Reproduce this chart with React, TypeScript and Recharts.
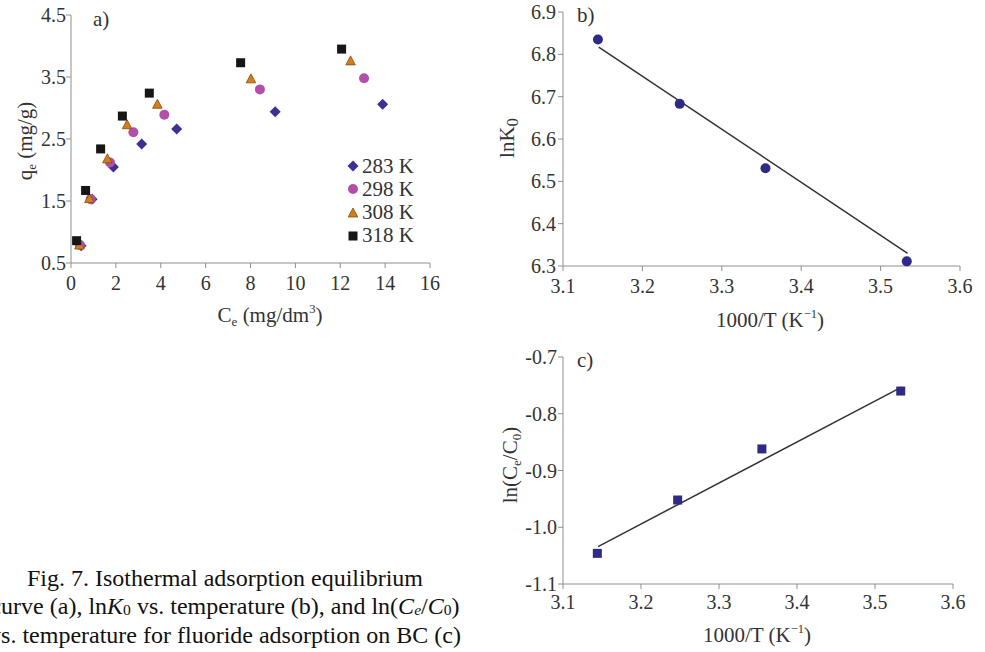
import { ScatterChart, Scatter, XAxis, YAxis } from "recharts";

// panel a: isotherms (Ce in mg/dm3, qe in mg/g)
const ceTicks = [0, 2, 4, 6, 8, 10, 12, 14, 16];
const qeTicks = [0.5, 1.5, 2.5, 3.5, 4.5];

const ce283 = [0.45, 0.94, 1.89, 3.15, 4.71, 9.1, 13.89];
const qe283 = [0.78, 1.53, 2.05, 2.42, 2.66, 2.94, 3.06];
const ce298 = [0.4, 0.88, 1.74, 2.78, 4.16, 8.42, 13.06];
const qe298 = [0.79, 1.53, 2.12, 2.61, 2.89, 3.3, 3.48];
const ce308 = [0.38, 0.82, 1.62, 2.5, 3.85, 8.02, 12.46];
const qe308 = [0.79, 1.54, 2.18, 2.73, 3.06, 3.47, 3.76];
const ce318 = [0.25, 0.65, 1.32, 2.29, 3.49, 7.56, 12.06];
const qe318 = [0.86, 1.67, 2.34, 2.87, 3.24, 3.73, 3.95];

// panels b and c: 1000/T
const invTTicks = [3.1, 3.2, 3.3, 3.4, 3.5, 3.6];
const invT = [3.144, 3.247, 3.355, 3.533];
const lnK0 = [6.835, 6.683, 6.531, 6.311];
const lnCeC0 = [-1.046, -0.952, -0.862, -0.76];
const lnK0Ticks = [6.3, 6.4, 6.5, 6.6, 6.7, 6.8, 6.9];
const lnCeTicks = [-1.1, -1.0, -0.9, -0.8, -0.7];

// fitted lines (end points)
const fitInvT = [3.145, 3.534];
const fitLnK0 = [6.817, 6.33];
const fitLnCeC0 = [-1.034, -0.753];

const toPts = (xs: number[], ys: number[]) => xs.map((x, i) => ({ x, y: ys[i] }));

const FONT = "Liberation Serif, Tinos, Times New Roman, DejaVu Serif, serif";
const AXIS = "#8f8f8f";
const TXT = "#333";

const BLUE = "#3a3192";
const MAGENTA = "#b24fa8";
const ORANGE = "#cf7f1c";
const BLACK = "#161616";
const NAVY = "#2e2a85";

const Diamond = (p: any) => (
  <polygon
    points={`${p.cx},${p.cy - 5.5} ${p.cx + 5.5},${p.cy} ${p.cx},${p.cy + 5.5} ${p.cx - 5.5},${p.cy}`}
    fill={BLUE}
  />
);
const Circle = (p: any) => <circle cx={p.cx} cy={p.cy} r={5} fill={MAGENTA} />;
const Triangle = (p: any) => (
  <polygon
    points={`${p.cx},${p.cy - 5} ${p.cx + 4.8},${p.cy + 4} ${p.cx - 4.8},${p.cy + 4}`}
    fill={ORANGE}
    stroke="#8c4a10"
    strokeWidth={0.8}
  />
);
const Square = (p: any) => (
  <rect x={p.cx - 4.5} y={p.cy - 4.5} width={9} height={9} fill={p.fill || BLACK} />
);
const Dot = (p: any) => <circle cx={p.cx} cy={p.cy} r={5} fill={NAVY} />;
const NavySquare = (p: any) => <Square {...p} fill={NAVY} />;
const NoMark = () => <g />;

const series = [
  { name: "283 K", data: toPts(ce283, qe283), shape: Diamond },
  { name: "298 K", data: toPts(ce298, qe298), shape: Circle },
  { name: "308 K", data: toPts(ce308, qe308), shape: Triangle },
  { name: "318 K", data: toPts(ce318, qe318), shape: Square },
];

const tick = { fill: TXT, fontSize: 20, fontFamily: FONT };
const sm = { fontSize: "0.62em", position: "relative" as const, top: "0.3em" };
const sup = { fontSize: "0.6em", position: "relative" as const, top: "-0.75em" };

function XTitle({ cx, top, children }: any) {
  return (
    <div
      style={{
        position: "absolute",
        left: cx - 150,
        top,
        width: 300,
        textAlign: "center",
        fontSize: 21,
        lineHeight: "24px",
        color: TXT,
        whiteSpace: "nowrap",
      }}
    >
      {children}
    </div>
  );
}

function YTitle({ cx, cy, children }: any) {
  return (
    <div
      style={{
        position: "absolute",
        left: cx - 100,
        top: cy - 12,
        width: 200,
        height: 24,
        textAlign: "center",
        fontSize: 21,
        lineHeight: "24px",
        color: TXT,
        whiteSpace: "nowrap",
        transform: "rotate(-90deg)",
      }}
    >
      {children}
    </div>
  );
}

function Tag({ left, top, text }: any) {
  return (
    <div style={{ position: "absolute", left, top, fontSize: 21, lineHeight: "24px", color: TXT }}>
      {text}
    </div>
  );
}

export default function App() {
  return (
    <div
      style={{
        position: "absolute",
        left: 0,
        top: 0,
        width: 985,
        height: 652,
        overflow: "hidden",
        background: "#fff",
        fontFamily: FONT,
      }}
    >
      {/* a) */}
      <div style={{ position: "absolute", left: 0, top: 0 }}>
        <ScatterChart width={460} height={340} margin={{ top: 15, right: 30, bottom: 37, left: 0 }}>
          <XAxis
            type="number"
            dataKey="x"
            domain={[0, 16]}
            ticks={ceTicks}
            height={40}
            tickSize={5}
            tickMargin={8}
            tick={tick}
            axisLine={{ stroke: AXIS }}
            tickLine={{ stroke: AXIS }}
          />
          <YAxis
            type="number"
            dataKey="y"
            domain={[0.5, 4.5]}
            ticks={qeTicks}
            width={71}
            tickSize={5}
            tickMargin={0}
            tickFormatter={(v: number) => v.toFixed(1)}
            tick={tick}
            axisLine={{ stroke: AXIS }}
            tickLine={{ stroke: AXIS }}
          />
          {series.map((s) => (
            <Scatter key={s.name} name={s.name} data={s.data} shape={s.shape} isAnimationActive={false} />
          ))}
        </ScatterChart>
      </div>
      <Tag left={93} top={7} text="a)" />
      <XTitle cx={270} top={303}>
        C<span style={sm}>e</span> (mg/dm<span style={sup}>3</span>)
      </XTitle>
      <YTitle cx={25} cy={141}>
        q<span style={sm}>e</span> (mg/g)
      </YTitle>
      <div style={{ position: "absolute", left: 347, top: 154.5, fontSize: 21, color: TXT }}>
        {series.map((s) => {
          const Mark = s.shape;
          return (
            <div key={s.name} style={{ display: "flex", alignItems: "center", height: 23.3 }}>
              <svg width={12} height={12} style={{ marginRight: 3 }}>
                <Mark cx={6} cy={6} />
              </svg>
              <span style={{ lineHeight: "23.3px" }}>{s.name}</span>
            </div>
          );
        })}
      </div>

      {/* b) */}
      <div style={{ position: "absolute", left: 480, top: 0 }}>
        <ScatterChart width={505} height={340} margin={{ top: 12, right: 25, bottom: 34, left: 0 }}>
          <XAxis
            type="number"
            dataKey="x"
            domain={[3.1, 3.6]}
            ticks={invTTicks}
            tickFormatter={(v: number) => v.toFixed(1)}
            height={40}
            tickSize={5}
            tickMargin={8}
            tick={tick}
            axisLine={{ stroke: AXIS }}
            tickLine={{ stroke: AXIS }}
          />
          <YAxis
            type="number"
            dataKey="y"
            domain={[6.3, 6.9]}
            ticks={lnK0Ticks}
            tickFormatter={(v: number) => v.toFixed(1)}
            width={83}
            tickSize={5}
            tickMargin={2}
            tick={tick}
            axisLine={{ stroke: AXIS }}
            tickLine={{ stroke: AXIS }}
          />
          <Scatter
            data={toPts(fitInvT, fitLnK0)}
            line={{ stroke: "#333", strokeWidth: 1.5 }}
            shape={NoMark}
            isAnimationActive={false}
          />
          <Scatter data={toPts(invT, lnK0)} shape={Dot} isAnimationActive={false} />
        </ScatterChart>
      </div>
      <Tag left={577} top={3} text="b)" />
      <XTitle cx={770} top={308}>
        1000/T (K<span style={sup}>−1</span>)
      </XTitle>
      <YTitle cx={507} cy={138}>
        lnK<span style={{ ...sm, fontSize: "0.8em", top: "0.25em" }}>0</span>
      </YTitle>

      {/* c) */}
      <div style={{ position: "absolute", left: 480, top: 330 }}>
        <ScatterChart width={505} height={322} margin={{ top: 27, right: 32, bottom: 28, left: 0 }}>
          <XAxis
            type="number"
            dataKey="x"
            domain={[3.1, 3.6]}
            ticks={invTTicks}
            tickFormatter={(v: number) => v.toFixed(1)}
            height={40}
            tickSize={5}
            tickMargin={6}
            tick={tick}
            axisLine={{ stroke: AXIS }}
            tickLine={{ stroke: AXIS }}
          />
          <YAxis
            type="number"
            dataKey="y"
            domain={[-1.1, -0.7]}
            ticks={lnCeTicks}
            tickFormatter={(v: number) => v.toFixed(1)}
            width={83}
            tickSize={5}
            tickMargin={1}
            tick={tick}
            axisLine={{ stroke: AXIS }}
            tickLine={{ stroke: AXIS }}
          />
          <Scatter
            data={toPts(fitInvT, fitLnCeC0)}
            line={{ stroke: "#333", strokeWidth: 1.5 }}
            shape={NoMark}
            isAnimationActive={false}
          />
          <Scatter data={toPts(invT, lnCeC0)} shape={NavySquare} isAnimationActive={false} />
        </ScatterChart>
      </div>
      <Tag left={577} top={348} text="c)" />
      <XTitle cx={757} top={623}>
        1000/T (K<span style={sup}>−1</span>)
      </XTitle>
      <YTitle cx={510} cy={465}>
        ln(C<span style={sm}>e</span>/C<span style={sm}>0</span>)
      </YTitle>

      {/* caption */}
      <div
        style={{
          position: "absolute",
          left: -75,
          top: 565,
          width: 600,
          textAlign: "center",
          fontSize: 24,
          lineHeight: "27.5px",
          color: "#111",
          whiteSpace: "nowrap",
        }}
      >
        Fig. 7. Isothermal adsorption equilibrium
        <br />
        curve (a), ln<i>K</i>
        <span style={{ fontSize: "0.65em", position: "relative", top: "0.1em" }}>0</span> vs. temperature (b), and ln(
        <i>C</i>
        <i style={{ fontSize: "0.65em", position: "relative", top: "0.1em" }}>e</i>/<i>C</i>
        <span style={{ fontSize: "0.65em", position: "relative", top: "0.1em" }}>0</span>)
        <br />
        vs. temperature for fluoride adsorption on BC (c)
      </div>
    </div>
  );
}
